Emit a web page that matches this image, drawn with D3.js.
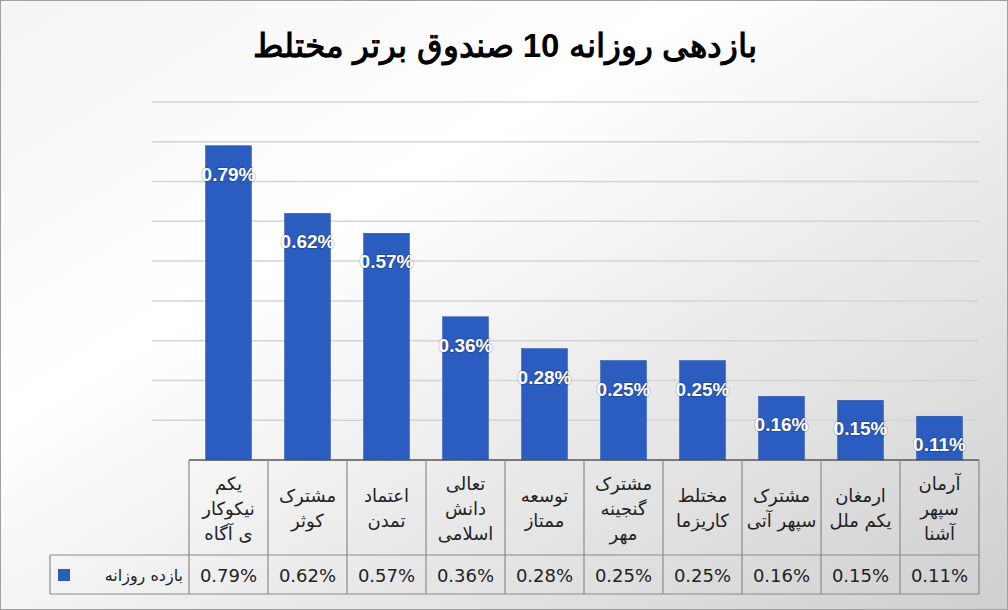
<!DOCTYPE html>
<html><head><meta charset="utf-8">
<script src="https://cdn.jsdelivr.net/npm/d3@7"></script>
<style>body{margin:0;} svg{display:block;}</style>
</head><body>
<svg width="1008" height="610"></svg>
<script>
// data
var funds = [
  ["یکم", "نیکوکار", "ی آگاه"],
  ["مشترک", "کوثر"],
  ["اعتماد", "تمدن"],
  ["تعالی", "دانش", "اسلامی"],
  ["توسعه", "ممتاز"],
  ["مشترک", "گنجینه", "مهر"],
  ["مختلط", "کاریزما"],
  ["مشترک", "سپهر آتی"],
  ["ارمغان", "یکم ملل"],
  ["آرمان", "سپهر", "آشنا"]
];
var returns = [0.79, 0.62, 0.57, 0.36, 0.28, 0.25, 0.25, 0.16, 0.15, 0.11];
var gridTicks = [0, 0.1, 0.2, 0.3, 0.4, 0.5, 0.6, 0.7, 0.8, 0.9];
var seriesName = "بازده روزانه";
var title = "بازدهی روزانه 10 صندوق برتر مختلط";

var svg = d3.select("svg");
var defs = svg.append("defs");
var grad = defs.append("linearGradient").attr("id", "bg")
  .attr("x1", "0").attr("y1", "0").attr("x2", "1").attr("y2", "1");
grad.append("stop").attr("offset", "0%").attr("stop-color", "#f4f4f4");
grad.append("stop").attr("offset", "35%").attr("stop-color", "#ffffff");
grad.append("stop").attr("offset", "100%").attr("stop-color", "#cfcfcf");

svg.append("rect").attr("x", 0.5).attr("y", 0.5).attr("width", 1007).attr("height", 609)
  .attr("fill", "url(#bg)").attr("stroke", "#a0a0a0");

svg.append("text").attr("x", 505).attr("y", 57).attr("text-anchor", "middle")
  .attr("font-family", "Liberation Sans, Arial, sans-serif").attr("font-weight", "bold")
  .attr("font-size", 33).attr("fill", "#000").text(title);

var plotL = 189, plotR = 979, plotT = 102, base = 460;
var x = d3.scaleBand().domain(d3.range(funds.length)).range([plotL, plotR]).paddingInner(0.42).paddingOuter(0.21);
var xc = d3.scaleBand().domain(d3.range(funds.length)).range([plotL, plotR]);
var y = d3.scaleLinear().domain([0, 0.9]).range([base, plotT]);

svg.append("g").selectAll("line").data(gridTicks.slice(1)).join("line")
  .attr("x1", 152).attr("x2", plotR).attr("y1", function(d){ return y(d); }).attr("y2", function(d){ return y(d); })
  .attr("stroke", "#d4d4d4").attr("stroke-width", 1.5);

svg.append("g").selectAll("rect").data(returns).join("rect")
  .attr("x", function(d, i){ return x(i); }).attr("width", x.bandwidth())
  .attr("y", function(d){ return y(d); }).attr("height", function(d){ return base - y(d); })
  .attr("fill", "#2b5cbf").attr("stroke", "#1f4aa0").attr("stroke-width", 0.5);

svg.append("g").selectAll("text").data(returns).join("text")
  .attr("x", function(d, i){ return xc(i) + xc.bandwidth() / 2; })
  .attr("y", function(d){ return y(d) + 35; })
  .attr("text-anchor", "middle").attr("font-family", "Liberation Sans, Arial, sans-serif")
  .attr("font-weight", "bold").attr("font-size", 19).attr("fill", "#fff")
  .style("paint-order", "stroke").attr("stroke", "rgba(0,0,0,0.25)").attr("stroke-width", 1.5)
  .text(function(d){ return d.toFixed(2) + "%"; });

// data table
var rowTop = 460, rowMid = 555, rowBot = 594, legLeft = 50;
svg.append("line").attr("x1", plotL).attr("x2", plotR).attr("y1", base).attr("y2", base)
  .attr("stroke", "#555").attr("stroke-width", 1.5);
var tg = svg.append("g").attr("stroke", "#8a8a8a").attr("stroke-width", 1.2);
tg.append("line").attr("x1", legLeft).attr("x2", plotR).attr("y1", rowMid).attr("y2", rowMid);
tg.append("line").attr("x1", legLeft).attr("x2", plotR).attr("y1", rowBot).attr("y2", rowBot);
tg.append("line").attr("x1", legLeft).attr("x2", legLeft).attr("y1", rowMid).attr("y2", rowBot);
tg.selectAll("line.v").data(d3.range(funds.length + 1)).join("line").attr("class", "v")
  .attr("x1", function(i){ return plotL + i * xc.step(); }).attr("x2", function(i){ return plotL + i * xc.step(); })
  .attr("y1", rowTop).attr("y2", rowBot);

var cat = svg.append("g").selectAll("text").data(funds).join("text")
  .attr("text-anchor", "middle").attr("font-family", "DejaVu Sans, sans-serif")
  .attr("font-size", 18).attr("fill", "#222")
  .attr("transform", function(d, i){ return "translate(" + (xc(i) + xc.bandwidth() / 2) + "," + ((rowTop + rowMid) / 2 - (d.length - 1) * 12 + 6) + ")"; });
cat.selectAll("tspan").data(function(d){ return d; }).join("tspan")
  .attr("x", 0).attr("y", function(d, j){ return j * 25; }).text(function(d){ return d; });

svg.append("g").selectAll("text").data(returns).join("text")
  .attr("x", function(d, i){ return xc(i) + xc.bandwidth() / 2; }).attr("y", rowBot - 12)
  .attr("text-anchor", "middle").attr("font-family", "DejaVu Sans, sans-serif")
  .attr("font-size", 18).attr("fill", "#222")
  .text(function(d){ return d.toFixed(2) + "%"; });

svg.append("rect").attr("x", 58).attr("y", rowMid + 14).attr("width", 12).attr("height", 12)
  .attr("fill", "#2b5cbf");
svg.append("text").attr("x", 183).attr("y", rowBot - 13).attr("text-anchor", "end")
  .attr("font-family", "DejaVu Sans, sans-serif").attr("font-size", 16).attr("fill", "#222")
  .text(seriesName);
</script>
</body></html>
